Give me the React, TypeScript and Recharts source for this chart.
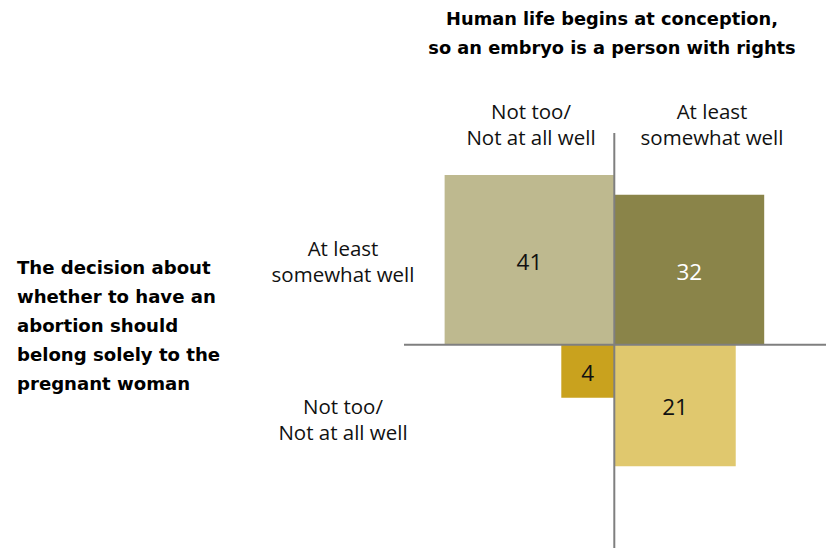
import { ComposedChart, ReferenceArea, ReferenceLine, XAxis, YAxis } from "recharts";

const titleLines = ["Human life begins at conception,", "so an embryo is a person with rights"];
const columnLabels = [
  ["Not too/", "Not at all well"],
  ["At least", "somewhat well"],
];
const rowLabels = [
  ["At least", "somewhat well"],
  ["Not too/", "Not at all well"],
];
const rowTitleLines = [
  "The decision about",
  "whether to have an",
  "abortion should",
  "belong solely to the",
  "pregnant woman",
];

// share in each quadrant; side of a square = sqrt(value)
const values = [41, 32, 4, 21];
const columnSide = [-1, 1, -1, 1]; // -1 = not too/not at all well, 1 = at least somewhat well
const rowSide = [1, 1, -1, -1];

const fills = ["#BEB98F", "#8A8449", "#C9A21E", "#E0C86E"];
const labelFills = ["#111111", "#ffffff", "#111111", "#111111"];

const BOLD_FONT = "'DejaVu Sans', Verdana, sans-serif";
const FONT = "'Open Sans', 'Noto Sans', Arial, sans-serif";

const X_DOMAIN = [-7.936, 7.989];
const Y_DOMAIN = [-7.672, 7.989];

export default function App() {
  const cells = values.map((value, i) => ({
    value,
    x2: columnSide[i] * Math.sqrt(value),
    y2: rowSide[i] * Math.sqrt(value),
  }));

  return (
    <div style={{ position: "absolute", left: 0, top: 0, width: 829, height: 548, background: "#fff" }}>
      <ComposedChart width={829} height={548} data={cells} margin={{ top: 133, right: 3, bottom: 0, left: 404 }}>
        <XAxis type="number" dataKey="x2" domain={X_DOMAIN} allowDataOverflow hide />
        <YAxis type="number" dataKey="y2" domain={Y_DOMAIN} allowDataOverflow hide />
        {cells.map((cell, i) => (
          <ReferenceArea
            key={i}
            x1={0}
            x2={cell.x2}
            y1={0}
            y2={cell.y2}
            fill={fills[i]}
            fillOpacity={1}
            stroke="none"
            ifOverflow="visible"
            label={{ value: cell.value, position: "center", fill: labelFills[i], fontSize: 22.5, fontFamily: FONT, dy: 2 }}
          />
        ))}
        <ReferenceLine
          segment={[{ x: X_DOMAIN[0], y: 0 }, { x: X_DOMAIN[1], y: 0 }]}
          stroke="#7F7F7F"
          strokeWidth={2}
          ifOverflow="visible"
        />
        <ReferenceLine
          segment={[{ x: 0, y: Y_DOMAIN[1] }, { x: 0, y: Y_DOMAIN[0] }]}
          stroke="#7F7F7F"
          strokeWidth={2}
          ifOverflow="visible"
        />
      </ComposedChart>
      <svg width={829} height={548} style={{ position: "absolute", left: 0, top: 0, pointerEvents: "none" }}>
        {titleLines.map((line, i) => (
          <text key={i} x={612} y={18 + i * 29} textAnchor="middle" dominantBaseline="central" fontFamily={BOLD_FONT} fontWeight="bold" fontSize={17.8} fill="#000">
            {line}
          </text>
        ))}
        {columnLabels.map((lines, c) =>
          lines.map((line, i) => (
            <text key={`${c}-${i}`} x={c === 0 ? 531 : 712} y={111 + i * 26} textAnchor="middle" dominantBaseline="central" fontFamily={FONT} fontSize={20.5} fill="#111">
              {line}
            </text>
          ))
        )}
        {rowLabels.map((lines, r) =>
          lines.map((line, i) => (
            <text key={`${r}-${i}`} x={343} y={(r === 0 ? 248 : 406) + i * 26} textAnchor="middle" dominantBaseline="central" fontFamily={FONT} fontSize={20.5} fill="#111">
              {line}
            </text>
          ))
        )}
        {rowTitleLines.map((line, i) => (
          <text key={i} x={17} y={267 + i * 29.2} dominantBaseline="central" fontFamily={BOLD_FONT} fontWeight="bold" fontSize={18.1} fill="#000">
            {line}
          </text>
        ))}
      </svg>
    </div>
  );
}
